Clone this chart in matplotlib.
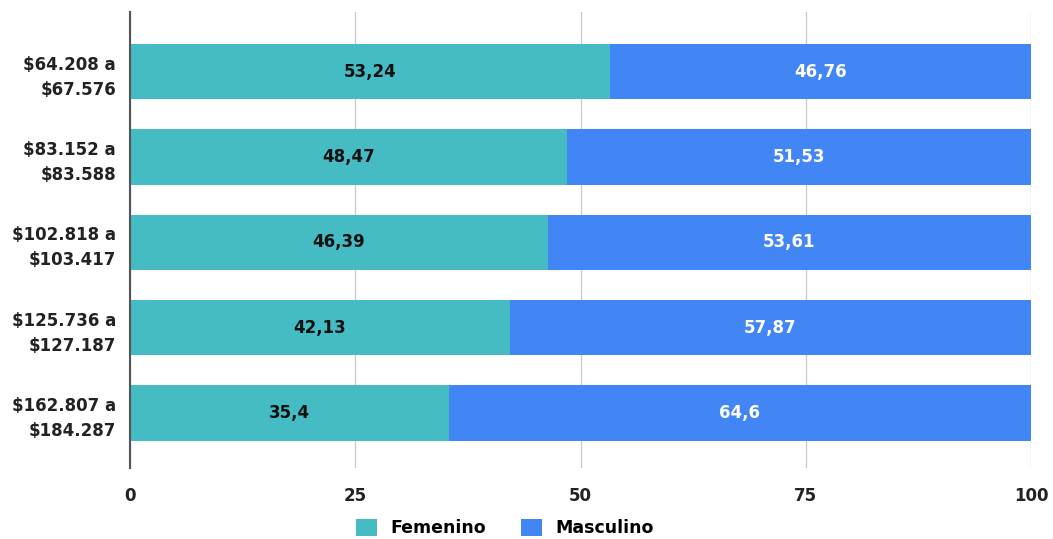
import matplotlib
matplotlib.use("Agg")
import matplotlib.pyplot as plt
from matplotlib.patches import Patch

categories = ["$64.208 a\n$67.576", "$83.152 a\n$83.588", "$102.818 a\n$103.417",
              "$125.736 a\n$127.187", "$162.807 a\n$184.287"]
femenino = [53.24, 48.47, 46.39, 42.13, 35.4]
masculino = [46.76, 51.53, 53.61, 57.87, 64.6]
fem_labels = ["53,24", "48,47", "46,39", "42,13", "35,4"]
masc_labels = ["46,76", "51,53", "53,61", "57,87", "64,6"]
xticks = [0, 25, 50, 75, 100]

teal = "#45BBC4"
blue = "#4285F4"
font = "DejaVu Sans"

fig = plt.figure(figsize=(10.53, 5.39), dpi=100)
ax = fig.add_axes([130/1053, 1 - 468/539, (1031 - 130)/1053, (468 - 12)/539])

y = list(range(len(categories)))
ax.barh(y, femenino, height=0.65, color=teal, zorder=3)
ax.barh(y, masculino, left=femenino, height=0.65, color=blue, zorder=3)

for i in y:
    ax.text(femenino[i] / 2, i, fem_labels[i], ha="center", va="center",
            fontsize=12, fontweight="bold", family=font, color="#111111", zorder=4)
    ax.text(femenino[i] + masculino[i] / 2, i, masc_labels[i], ha="center", va="center",
            fontsize=12, fontweight="bold", family=font, color="white", zorder=4)

ax.set_xlim(0, 100)
ax.set_ylim(4.645, -0.70)
ax.set_xticks(xticks)
ax.set_xticklabels([str(t) for t in xticks], fontsize=12, fontweight="bold",
                   family=font, color="#222222")
ax.set_yticks(y)
ax.set_yticklabels(categories, fontsize=12, fontweight="bold",
                   family=font, color="#222222", linespacing=1.5)
ax.tick_params(axis="both", length=0)
ax.tick_params(axis="x", pad=14)
ax.tick_params(axis="y", pad=10)

for s in ["top", "right", "bottom"]:
    ax.spines[s].set_visible(False)
ax.spines["left"].set_color("#555555")
ax.spines["left"].set_linewidth(1.5)
ax.spines["left"].set_zorder(5)

ax.grid(axis="x", color="#cccccc", linewidth=1, zorder=0)
ax.grid(axis="y", visible=False)

handles = [Patch(facecolor=teal, label="Femenino"), Patch(facecolor=blue, label="Masculino")]
fig.legend(handles=handles, loc="center", bbox_to_anchor=(505/1053, 1 - 528/539), ncol=2,
           frameon=False, handlelength=1.2, handleheight=1.2, columnspacing=2.0,
           prop={"family": font, "weight": "bold", "size": 12.5})

fig.savefig("out.png", dpi=100)
